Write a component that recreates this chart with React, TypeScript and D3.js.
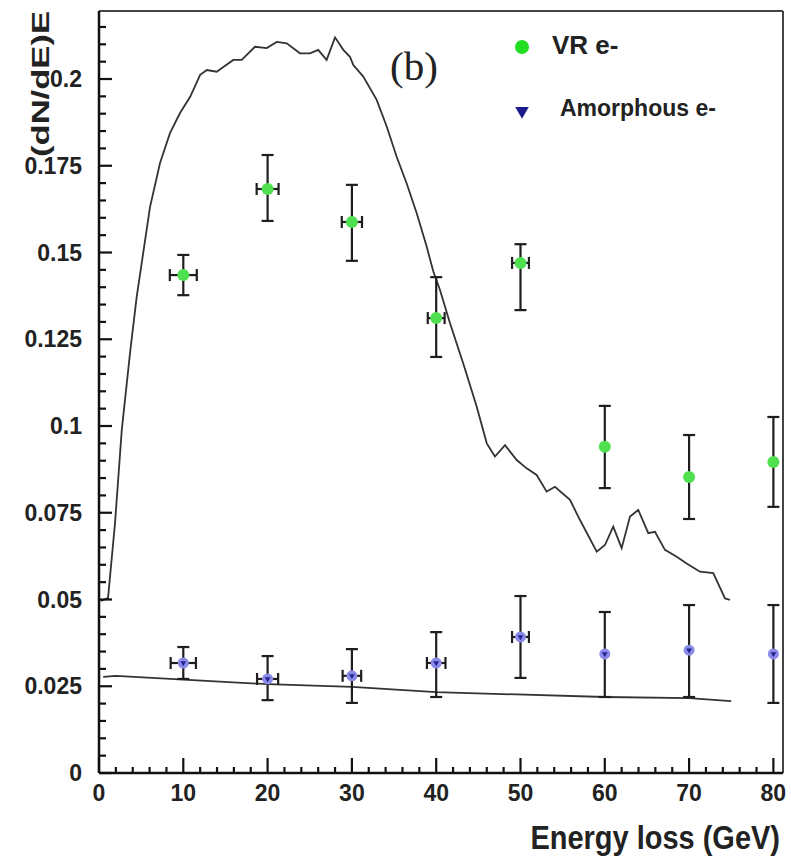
import React from 'react';
import * as d3 from 'd3';

// simulated VR curve (E in GeV, (dN/dE)E)
const simVrE = [0.2, 1.07, 1.9, 2.7, 3.68, 4.47, 6.05, 7.24, 8.42, 9.61, 10.8, 12.0, 12.8, 13.96, 15.93, 16.93,
  18.5, 19.9, 21.08, 22.27, 23.84, 25.03, 26.0, 27.0, 28.0, 28.98, 29.77, 30.17, 31.35, 32.94, 34.13, 35.31,
  36.5, 37.69, 38.87, 39.66, 40.45, 41.64, 43.2, 44.8, 46.0, 46.97, 48.16, 49.55, 50.73, 51.92, 53.1, 54.09,
  55.87, 57.06, 59.04, 60.02, 61.0, 62.0, 62.99, 63.97, 65.16, 65.95, 67.14, 68.53, 69.71, 71.29, 72.87, 74.26, 74.85];
const simVrY = [0.0496, 0.0504, 0.072, 0.0988, 0.121, 0.1372, 0.1631, 0.1758, 0.1844, 0.1902, 0.1948, 0.2012, 0.2026, 0.2021, 0.2055, 0.2055,
  0.2093, 0.2089, 0.2107, 0.2103, 0.2074, 0.2074, 0.2084, 0.2055, 0.212, 0.2084, 0.2064, 0.204, 0.2007, 0.194, 0.1863, 0.1776,
  0.1699, 0.1613, 0.1517, 0.1445, 0.1392, 0.1296, 0.1181, 0.1056, 0.095, 0.0912, 0.0945, 0.0902, 0.0878, 0.0859, 0.0811, 0.0825,
  0.0787, 0.0729, 0.0638, 0.0657, 0.071, 0.0648, 0.0739, 0.0758, 0.0691, 0.0695, 0.0643, 0.0623, 0.0604, 0.058, 0.0576, 0.0503, 0.0499];

// simulated amorphous curve
const simAmE = [0.5, 2, 20, 30, 40, 60, 70, 75];
const simAmY = [0.0277, 0.028, 0.0256, 0.0248, 0.0233, 0.0219, 0.0216, 0.0207];

// measured points
const pointE = [10, 20, 30, 40, 50, 60, 70, 80];
const vrY = [0.1435, 0.1683, 0.1588, 0.1311, 0.147, 0.094, 0.0853, 0.0896];
const vrHi = [0.1493, 0.1781, 0.1695, 0.1429, 0.1524, 0.1058, 0.0974, 0.1026];
const vrLo = [0.1377, 0.1591, 0.1476, 0.1199, 0.1334, 0.0821, 0.0732, 0.0767];
const vrXErr = [1.6, 1.3, 1.2, 1.0, 1.0, 0, 0, 0];
const amY = [0.0317, 0.0271, 0.028, 0.0317, 0.0392, 0.0343, 0.0354, 0.0343];
const amHi = [0.0363, 0.0337, 0.0357, 0.0406, 0.051, 0.0464, 0.0484, 0.0484];
const amLo = [0.0271, 0.021, 0.0202, 0.0219, 0.0274, 0.0219, 0.0219, 0.0202];
const amXErr = [1.5, 1.25, 1.1, 1.1, 1.0, 0, 0, 0];

const xMajor = [0, 10, 20, 30, 40, 50, 60, 70, 80];
const yMajor = [0, 0.025, 0.05, 0.075, 0.1, 0.125, 0.15, 0.175, 0.2];
const yLabels = ['0', '0.025', '0.05', '0.075', '0.1', '0.125', '0.15', '0.175', '0.2'];

const layout = { left: 99, right: 783, top: 11, bottom: 773 };
const font = '"Liberation Sans", Arial, sans-serif';

export default function App() {
  const x = d3.scaleLinear().domain([0, 81.14]).range([layout.left, layout.right]);
  const y = d3.scaleLinear().domain([0, 0.2196]).range([layout.bottom, layout.top]);

  const line = d3.line<number>().x((d, i) => x(simVrE[i])).y(d => y(d));
  const lineAm = d3.line<number>().x((d, i) => x(simAmE[i])).y(d => y(d));

  const xMinor = d3.range(0, 81, 2).filter(v => v % 10 !== 0);
  const yMinor = d3.range(0, 0.2196, 0.005).filter((v, i) => i % 5 !== 0);

  const errBars = (ys: number[], hi: number[], lo: number[], xe: number[], key: string) =>
    pointE.map((e, i) => (
      <g key={key + i} stroke="#1e1e1e" strokeWidth={2.2}>
        <line x1={x(e)} x2={x(e)} y1={y(hi[i])} y2={y(lo[i])} />
        <line x1={x(e) - 6} x2={x(e) + 6} y1={y(hi[i])} y2={y(hi[i])} />
        <line x1={x(e) - 6} x2={x(e) + 6} y1={y(lo[i])} y2={y(lo[i])} />
        {xe[i] > 0 && (
          <>
            <line x1={x(e - xe[i])} x2={x(e + xe[i])} y1={y(ys[i])} y2={y(ys[i])} />
            <line x1={x(e - xe[i])} x2={x(e - xe[i])} y1={y(ys[i]) - 6} y2={y(ys[i]) + 6} />
            <line x1={x(e + xe[i])} x2={x(e + xe[i])} y1={y(ys[i]) - 6} y2={y(ys[i]) + 6} />
          </>
        )}
      </g>
    ));

  return (
    <div style={{ position: 'absolute', left: 0, top: 0 }}>
      <svg width={791} height={863} style={{ display: 'block', background: '#fff' }}>
        {/* frame */}
        <line x1={layout.left} x2={layout.right} y1={layout.top} y2={layout.top} stroke="#444" strokeWidth={2} />
        <line x1={layout.right} x2={layout.right} y1={layout.top} y2={layout.bottom} stroke="#444" strokeWidth={2} />

        {/* simulation curves */}
        <path d={line(simVrY) || ''} fill="none" stroke="#333" strokeWidth={1.8} />
        <path d={lineAm(simAmY) || ''} fill="none" stroke="#333" strokeWidth={1.8} />

        {errBars(vrY, vrHi, vrLo, vrXErr, 'vr')}
        {errBars(amY, amHi, amLo, amXErr, 'am')}

        {pointE.map((e, i) => (
          <circle key={'vc' + i} cx={x(e)} cy={y(vrY[i])} r={6} fill="#4ee04e" />
        ))}
        {pointE.map((e, i) => (
          <g key={'ac' + i}>
            <circle cx={x(e)} cy={y(amY[i])} r={5.5} fill="#8a8ae8" />
            <path d={d3.symbol(d3.symbolTriangle, 14)() || ''} transform={`translate(${x(e)},${y(amY[i])}) rotate(180)`} fill="#24248e" />
          </g>
        ))}

        {/* axes */}
        <line x1={layout.left} x2={layout.left} y1={layout.top} y2={layout.bottom} stroke="#111" strokeWidth={2.5} />
        <line x1={layout.left} x2={layout.right} y1={layout.bottom} y2={layout.bottom} stroke="#111" strokeWidth={2.5} />
        {yMajor.map(v => (
          <line key={'ym' + v} x1={layout.left} x2={layout.left + 13} y1={y(v)} y2={y(v)} stroke="#111" strokeWidth={2.2} />
        ))}
        {yMinor.map(v => (
          <line key={'yn' + v} x1={layout.left} x2={layout.left + 7} y1={y(v)} y2={y(v)} stroke="#111" strokeWidth={2.2} />
        ))}
        {xMajor.map(v => (
          <line key={'xm' + v} x1={x(v)} x2={x(v)} y1={layout.bottom} y2={layout.bottom - 15} stroke="#111" strokeWidth={2.2} />
        ))}
        {xMinor.map(v => (
          <line key={'xn' + v} x1={x(v)} x2={x(v)} y1={layout.bottom} y2={layout.bottom - 6} stroke="#111" strokeWidth={2.2} />
        ))}

        <g fontFamily={font} fontWeight="bold" fontSize={23} fill="#222">
          {yMajor.map((v, i) => (
            <text key={'yl' + v} x={82} y={y(v) + 8} textAnchor="end">{yLabels[i]}</text>
          ))}
          {xMajor.map(v => (
            <text key={'xl' + v} x={x(v)} y={801} textAnchor="middle">{v}</text>
          ))}
        </g>

        <text transform="translate(49,84) rotate(-90)" textAnchor="middle" fontFamily={font} fontWeight="bold"
          fontSize={24} fill="#222" textLength={146} lengthAdjust="spacingAndGlyphs">(dN/dE)E</text>
        <text transform="translate(780,849) scale(1,1.12)" textAnchor="end" fontFamily={font} fontWeight="bold"
          fontSize={29} fill="#222">Energy loss (GeV)</text>

        <text x={390} y={80} fontFamily='"Liberation Serif", "Times New Roman", serif' fontSize={41} fill="#222">(b)</text>

        {/* legend */}
        <circle cx={522} cy={47} r={7} fill="#22dd22" />
        <text x={552} y={54} fontFamily={font} fontWeight="bold" fontSize={26} fill="#222">VR e-</text>
        <path d={d3.symbol(d3.symbolTriangle, 80)() || ''} transform="translate(522,111) rotate(180)" fill="#1a1a8c" />
        <text x={560} y={116} fontFamily={font} fontWeight="bold" fontSize={23} fill="#222">Amorphous e-</text>
      </svg>
    </div>
  );
}
